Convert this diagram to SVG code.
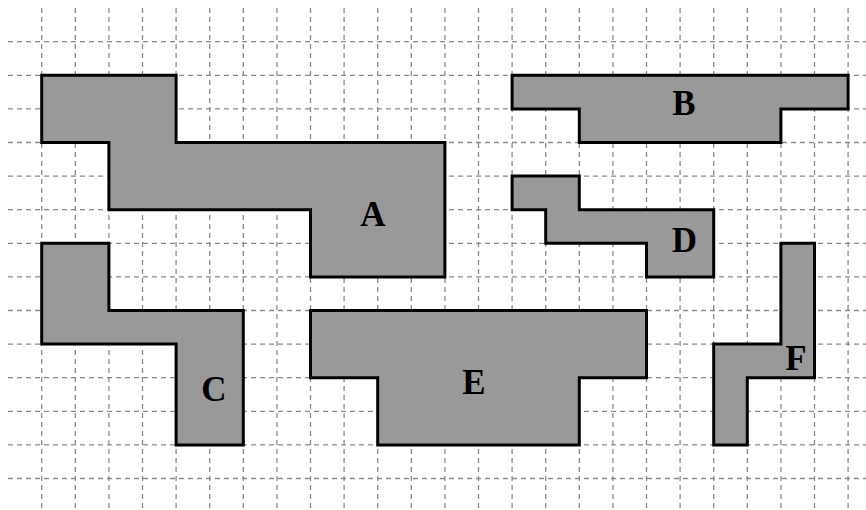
<svg xmlns="http://www.w3.org/2000/svg" width="866" height="510" viewBox="0 0 866 510">
<style>
.grid{stroke:#8a8a8a;stroke-width:1.3;stroke-dasharray:5 4;fill:none}
.shape{fill:#999999;stroke:#000;stroke-width:3;stroke-linejoin:miter}
.lbl{font-family:"Liberation Serif","Times New Roman",serif;font-weight:bold;font-size:35px;fill:#000;text-anchor:middle}
</style>
<rect width="866" height="510" fill="#fff"/>
<g id="grid" class="grid">
<path d="M41.7 8V510M75.3 8V510M108.9 8V510M142.5 8V510M176.1 8V510M209.7 8V510M243.3 8V510M276.9 8V510M310.5 8V510M344.1 8V510M377.7 8V510M411.3 8V510M444.9 8V510M478.5 8V510M512.1 8V510M545.7 8V510M579.3 8V510M612.9 8V510M646.5 8V510M680.1 8V510M713.7 8V510M747.3 8V510M780.9 8V510M814.5 8V510M848.1 8V510"/>
<path d="M8 41.7H866M8 75.3H866M8 108.9H866M8 142.5H866M8 176.1H866M8 209.7H866M8 243.3H866M8 276.9H866M8 310.5H866M8 344.1H866M8 377.7H866M8 411.3H866M8 444.9H866M8 478.5H866"/>
</g>
<g id="A">
<polygon class="shape" points="41.7,75.3 176.1,75.3 176.1,142.5 444.9,142.5 444.9,276.9 310.5,276.9 310.5,209.7 108.9,209.7 108.9,142.5 41.7,142.5"/>
<text class="lbl" x="373" y="226">A</text>
</g>
<g id="B">
<polygon class="shape" points="512.1,75.3 848.1,75.3 848.1,108.9 780.9,108.9 780.9,142.5 579.3,142.5 579.3,108.9 512.1,108.9"/>
<text class="lbl" x="684" y="115">B</text>
</g>
<g id="C">
<polygon class="shape" points="41.7,243.3 108.9,243.3 108.9,310.5 243.3,310.5 243.3,444.9 176.1,444.9 176.1,344.1 41.7,344.1"/>
<text class="lbl" x="214" y="401">C</text>
</g>
<g id="D">
<polygon class="shape" points="512.1,176.1 579.3,176.1 579.3,209.7 713.7,209.7 713.7,276.9 646.5,276.9 646.5,243.3 545.7,243.3 545.7,209.7 512.1,209.7"/>
<text class="lbl" x="684.5" y="251.5">D</text>
</g>
<g id="E">
<polygon class="shape" points="310.5,310.5 646.5,310.5 646.5,377.7 579.3,377.7 579.3,444.9 377.7,444.9 377.7,377.7 310.5,377.7"/>
<text class="lbl" x="474" y="394">E</text>
</g>
<g id="F">
<polygon class="shape" points="780.9,243.3 814.5,243.3 814.5,377.7 747.3,377.7 747.3,444.9 713.7,444.9 713.7,344.1 780.9,344.1"/>
<text class="lbl" x="796" y="370">F</text>
</g>
<g id="connectors"/>
</svg>
